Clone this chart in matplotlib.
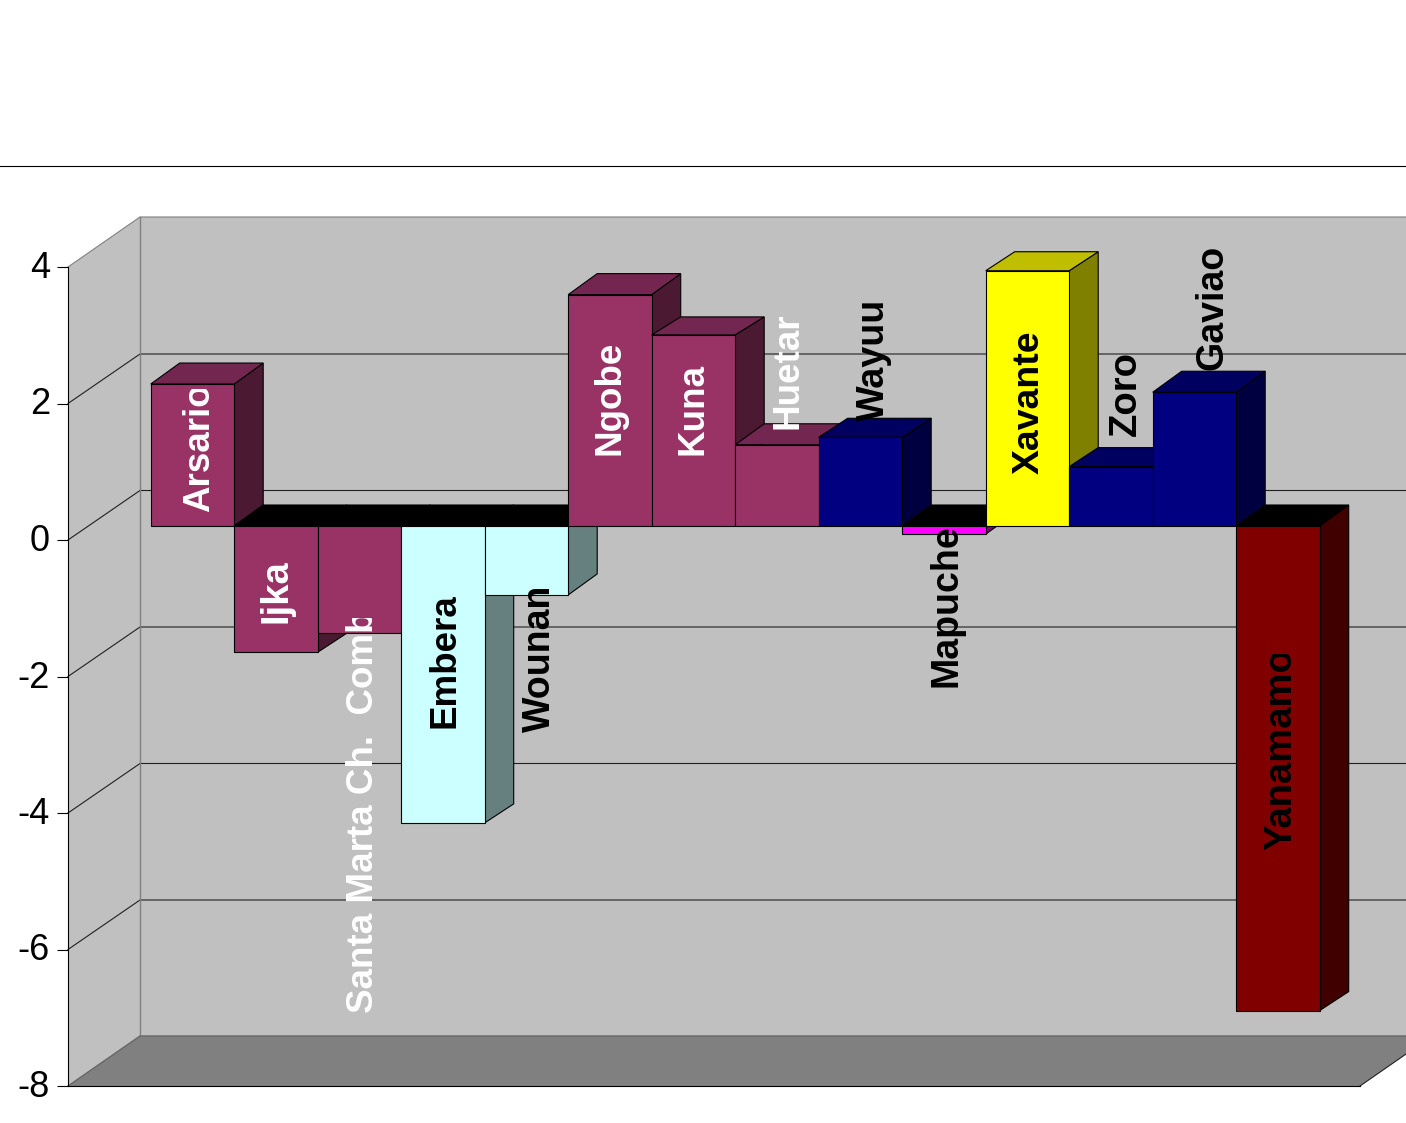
import matplotlib
matplotlib.use('Agg')
import matplotlib.pyplot as plt
from matplotlib.patches import Polygon
from matplotlib.transforms import Bbox, ScaledTranslation

plt.rcParams['font.family'] = ['Liberation Sans', 'DejaVu Sans']

categories = ['Arsario', 'Ijka', 'Santa Marta Ch.  Comb', 'Embera', 'Wounan', 'Ngobe', 'Kuna',
              'Huetar', 'Wayuu', 'Mapuche', 'Xavante', 'Zoro', 'Gaviao', 'Yanamamo']
values = [2.08, -1.85, -1.57, -4.35, -1.01, 3.39, 2.8, 1.19, 1.3, -0.12, 3.74, 0.87, 1.96, -7.1]
yticks = [-8, -6, -4, -2, 0, 2, 4]
ytick_labels = ['-8', '-6', '-4', '-2', '0', '2', '4']

# front, top and side colours of the bars
purple = ('#993366', '#722650', '#4c1933')
cyan = ('#ccffff', '#99bfbf', '#668080')
navy = ('#000080', '#000060', '#000040')
magenta = ('#ff00ff', '#bf00bf', '#800080')
yellow = ('#ffff00', '#bfbf00', '#808000')
maroon = ('#800000', '#600000', '#400000')
bar_colors = [purple, purple, purple, cyan, cyan, purple, purple, purple,
              navy, magenta, yellow, navy, navy, maroon]
label_colors = ['white'] * 3 + ['black'] * 2 + ['white'] * 3 + ['black'] * 6

# label placement in pixels, relative to the centre of the bar end
label_dx = [17, 11, 14, 12, 24, 10, 9, 21, 24, 13, 11, 25, 28, 13]
label_dy = [-128, 29, -380, 95, -137, -160, -120, 16, 16, -153, -203, 31, 22, 161]
label_size = [26.5, 27.5, 26.5, 26.5, 27, 26.5, 26.5, 26.5, 27.2, 27, 26.9, 27.5, 27, 27.5]
# visible length of the labels that lose the end of their last letter
label_keep = [123, None, 395, None, 143, None, None, None, None, None, None, None, None, 196]
# how far back the far end of each bar goes, in pixels
end_depth = [21, 19, 19, 19, 21, 21, 18, 21, 19, 21, 19, 19, 21, 19]

W, H = 1406, 1123
PX_X = 83.5    # pixels per category
PX_Y = 68.25   # pixels per unit

fig = plt.figure(figsize=(W / 100, H / 100), dpi=100, facecolor='white')
ax = fig.add_axes([68 / W, (H - 1086) / H, 1292 / W, 819 / H])
ax.set_xlim(0, 1292 / PX_X)
ax.set_ylim(-8, 4)
ax.patch.set_visible(False)


def dx(px):
    return px / PX_X


def dy(px):
    return px / PX_Y


def face(pts, color, z, edge='black', lw=0.8):
    ax.add_patch(Polygon(pts, closed=True, facecolor=color, edgecolor=edge, linewidth=lw,
                         zorder=z, clip_on=False, joinstyle='miter'))


# walls
wall_x, wall_y = dx(72), dy(50)
grid_y = dy(49.5)
right = 1292 / PX_X
face([(0, 4), (wall_x, 4 + wall_y), (wall_x, -8 + wall_y), (0, -8)], '#c0c0c0', 1, 'none')
face([(wall_x, 4 + wall_y), (right + wall_x, 4 + wall_y), (right + wall_x, -8 + wall_y),
      (wall_x, -8 + wall_y)], '#c0c0c0', 1, 'none')
face([(0, -8), (wall_x, -8 + wall_y), (right + wall_x, -8 + wall_y), (right, -8)], '#808080', 1, 'none')

for t in yticks[1:-1]:
    ax.plot([0, wall_x, right + wall_x], [t, t + grid_y, t + grid_y], color='#202020', lw=0.8,
            zorder=1.5, clip_on=False)
ax.plot([0, wall_x, right + wall_x], [4, 4 + wall_y, 4 + wall_y], color='#808080', lw=0.8,
        zorder=1.5, clip_on=False)
ax.plot([wall_x, wall_x], [4 + wall_y, -8 + wall_y], color='#808080', lw=1.0, zorder=1.5, clip_on=False)
ax.plot([0, wall_x, right + wall_x], [-8, -8 + wall_y, -8 + wall_y], color='#666666', lw=1.0,
        zorder=1.5, clip_on=False)
ax.plot([right, right + wall_x], [-8, -8 + wall_y], color='#202020', lw=0.8, zorder=1.5, clip_on=False)

# bars, painted left to right
base = dy(14)
start = 1 - dx(0.8)
depth_x, depth_y = dx(29), dy(21)
z = 3
for i, (v, col) in enumerate(zip(values, bar_colors)):
    x0, x1 = start + i, start + i + 1
    lo, hi = min(v, 0) + base, max(v, 0) + base
    lo_back = lo + (depth_y if v > 0 else dy(end_depth[i]))
    hi_back = hi + (dy(end_depth[i]) if v > 0 else depth_y)
    top = col[1] if v > 0 else 'black'
    face([(x1, lo), (x1 + depth_x, lo_back), (x1 + depth_x, hi_back), (x1, hi)], col[2], z)
    face([(x0, hi), (x0 + depth_x, hi_back), (x1 + depth_x, hi_back), (x1, hi)], top, z + 0.1)
    face([(x0, lo), (x1, lo), (x1, hi), (x0, hi)], col[0], z + 0.2)
    z += 1

# bar labels
for i, name in enumerate(categories):
    anchor = (start + i + 0.5, values[i] + base)
    txt = ax.annotate(name, xy=anchor,
                      xytext=(label_dx[i], label_dy[i]), textcoords='offset pixels',
                      rotation=90, rotation_mode='anchor', ha='left', va='baseline',
                      fontsize=label_size[i], fontweight='bold', color=label_colors[i],
                      zorder=50, annotation_clip=False)
    if label_keep[i]:
        # the far end of the text is cut off, as in the original
        px = ax.transData.transform(anchor)
        y0 = px[1] + label_dy[i]
        txt.set_clip_box(Bbox.from_extents(0, y0 - 10, W, y0 + label_keep[i]))
        txt.set_clip_on(True)

# axis
for s in ['top', 'right']:
    ax.spines[s].set_visible(False)
ax.spines['left'].set_linewidth(0.8)
ax.spines['bottom'].set_linewidth(0.8)
ax.spines['left'].set_zorder(2.5)
ax.spines['bottom'].set_zorder(2.5)
ax.set_xticks([])
ax.set_yticks(yticks)
ax.set_yticklabels(ytick_labels)
ax.tick_params(axis='y', length=8, width=0.8, pad=5, labelsize=26)
up = ScaledTranslation(0, 2.5 / 100, fig.dpi_scale_trans)
for lab in ax.get_yticklabels():
    lab.set_transform(lab.get_transform() + up)

fig.add_artist(plt.Line2D([0, 1], [1 - 166 / H, 1 - 166 / H], color='black', lw=0.8))

fig.savefig('out.png', dpi=100)
